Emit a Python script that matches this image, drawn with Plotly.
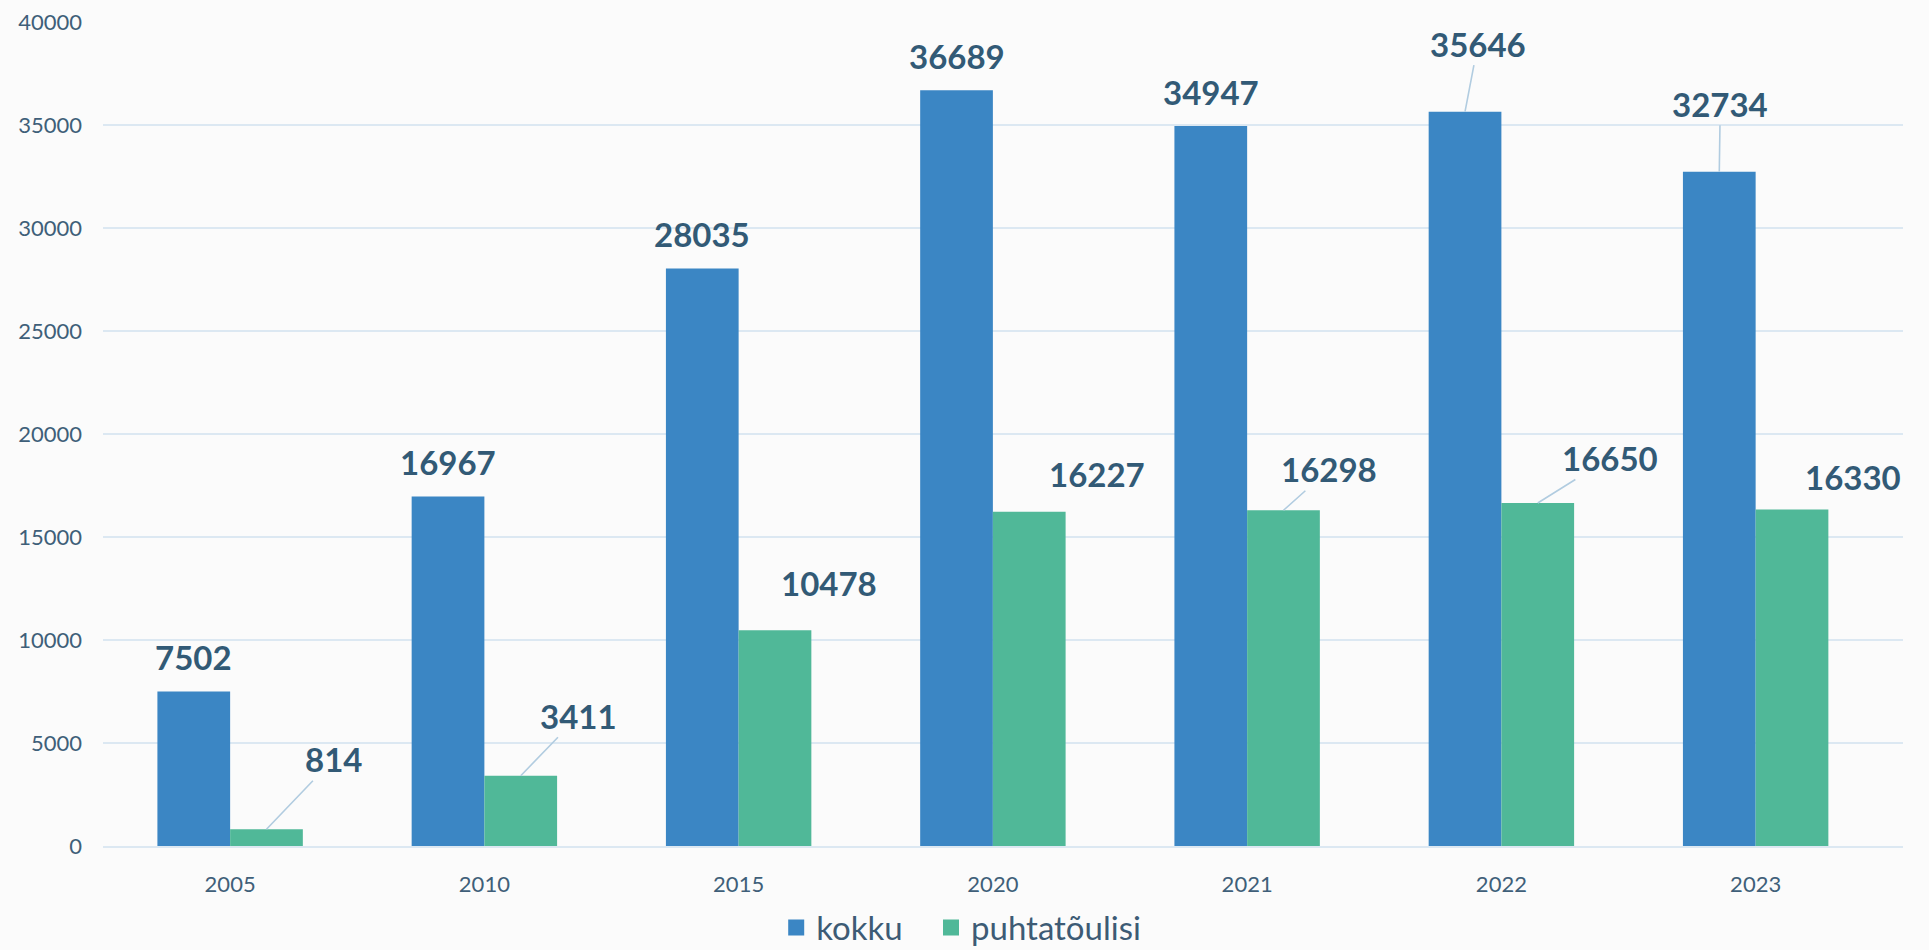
import plotly.graph_objects as go

# ---- data ----
years = ["2005", "2010", "2015", "2020", "2021", "2022", "2023"]
kokku = [7502, 16967, 28035, 36689, 34947, 35646, 32734]
puhtatoulisi = [814, 3411, 10478, 16227, 16298, 16650, 16330]
y_ticks = [0, 5000, 10000, 15000, 20000, 25000, 30000, 35000, 40000]
y_tick_text = ["0", "5000", "10000", "15000", "20000", "25000", "30000", "35000", "40000"]

# ---- styling ----
C_BLUE = "#3b86c4"
C_GREEN = "#50b898"
C_TEXT = "#325a76"
C_TICK = "#3f5f79"
C_GRID = "#dce8f2"
C_LEADER = "#b1cce0"
BG = "#fbfbfb"

# label offsets in pixels (dx, dy, leader line)
off_kokku = [(0, -34, False), (0, -34, False), (0, -34, False), (0, -34, False),
             (0, -34, False), (13, -68, True), (1, -68, True)]
off_puhta = [(67, -70, True), (58, -60, True), (54, -47, False), (68, -38, False),
             (46, -41, True), (72, -45, True), (61, -33, False)]

BARGAP = 0.428
half = (1 - BARGAP) / 4  # center offset of each bar within a category (in category units)

fig = go.Figure()
fig.add_trace(go.Bar(x=years, y=kokku, name="kokku", showlegend=False,
                     marker=dict(color=C_BLUE, line=dict(width=0))))
fig.add_trace(go.Bar(x=years, y=puhtatoulisi, name="puhtatõulisi", showlegend=False,
                     marker=dict(color=C_GREEN, line=dict(width=0))))
# legend entries with larger square swatches, each in its own legend for exact spacing
for nm, col, lg in (("kokku", C_BLUE, "legend"), ("puhtatõulisi", C_GREEN, "legend2")):
    fig.add_trace(go.Scatter(x=[None], y=[None], mode="markers", name=nm, legend=lg,
                             marker=dict(symbol="square", size=18, color=col), hoverinfo="skip"))

annotations = []
label_font = dict(family="Lato", size=33, color=C_TEXT)
for series, offs, shift in ((kokku, off_kokku, -half), (puhtatoulisi, off_puhta, half)):
    for i, (v, (dx, dy, arrow)) in enumerate(zip(series, offs)):
        a = dict(x=i + shift, y=v, xref="x", yref="y", text=f"<b>{v}</b>", font=label_font)
        if arrow:
            a.update(showarrow=True, ax=dx, ay=dy, arrowhead=0, arrowwidth=1.6,
                     arrowcolor=C_LEADER, standoff=0, startstandoff=0)
        else:
            a.update(showarrow=False, xshift=dx, yshift=-dy, xanchor="center", yanchor="middle")
        annotations.append(a)

leg_common = dict(orientation="h", xanchor="left", y=-0.099, yanchor="middle",
                  font=dict(family="Lato", size=33, color="#3d5b75"),
                  itemwidth=30, bgcolor="rgba(0,0,0,0)")

fig.update_layout(
    width=1929, height=950,
    margin=dict(l=103, r=26, t=22, b=104, autoexpand=False),
    paper_bgcolor=BG, plot_bgcolor=BG,
    barmode="group", bargap=BARGAP, bargroupgap=0,
    font=dict(family="Lato", color=C_TICK),
    showlegend=True,
    legend=dict(x=0.374, **leg_common),
    legend2=dict(x=0.460, **leg_common),
    annotations=annotations,
)
fig.update_xaxes(type="category", showgrid=False, showline=True, linecolor=C_GRID, linewidth=2,
                 ticks="", tickfont=dict(family="Lato", size=22, color=C_TICK), ticklabelstandoff=18,
                 automargin=False)
fig.update_yaxes(range=[0, 40000], tickvals=y_ticks, ticktext=y_tick_text, showgrid=True,
                 gridcolor=C_GRID, gridwidth=2, zeroline=False, showline=False, ticks="",
                 tickfont=dict(family="Lato", size=22, color=C_TICK), ticklabelstandoff=20,
                 automargin=False)

fig.write_html("out.html", config={"displayModeBar": False},
               post_script="document.body.style.margin='0';document.body.style.overflow='hidden';"
                           "document.body.style.background='" + BG + "';")
